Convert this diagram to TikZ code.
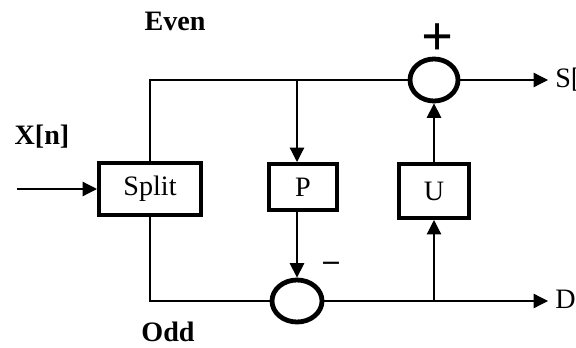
\documentclass[tikz,border=0pt]{standalone}
\usepackage{fontspec}
\setmainfont{Liberation Serif}
\usetikzlibrary{arrows.meta,shapes.geometric,positioning,calc}
\tikzset{
  block/.style={
    shape = rectangle,
    draw,
    line width=1mm,
    inner sep=0pt,
    font=\fontsize{20}{24}\selectfont
  },
  adder/.style={
    shape = ellipse,
    draw,
    line width=1.2mm,
    inner sep=0pt,
    minimum width=1.2cm,
    minimum height=1.05cm
  },
  wire/.style={
    line width=0.9pt
  },
  arr/.style={
    wire,
    -{Triangle[length=3.6mm,width=3.6mm]}
  },
  lbl/.style={
    font=\fontsize{20}{24}\selectfont\bfseries,
    inner sep=0pt
  },
  sig/.style={
    anchor=west,
    font=\fontsize{20}{24}\selectfont,
    inner sep=0pt
  }
}

\begin{document}
\begin{tikzpicture}[x=0.025cm,y=-0.025cm]
        \useasboundingbox (0,0) rectangle (576,347);

        % blocks
        \node[block, minimum width=2.55cm, minimum height=1.3cm] (split) at (150,189) {Split};
        \node[block, minimum width=1.7cm, minimum height=1.15cm] (pbox) at (303,187) {P};
        \node[block, minimum width=1.75cm, minimum height=1.35cm] (ubox) at (434,191) {U};
        \node[adder] (plus) at (434,80) {};
        \node[adder, minimum width=1.25cm] (minus) at (297,301) {};

        % free ends
        \coordinate (xin) at (17,189);
        \coordinate (sout) at (548,80);
        \coordinate (dout) at (548,301);
        \coordinate (ufork) at (ubox.south |- minus.east);

        % wires
        \draw[arr] (xin) -- (split.west);
        \draw[wire] (split.north) |- (plus.west);
        \draw[wire] (split.south) |- (minus.west);
        \draw[arr] (minus.north |- plus.west) -- (pbox.north -| minus.north);
        \draw[arr] (pbox.south -| minus.north) -- (minus.north);
        \draw[arr] (plus.east) -- (sout);
        \draw[arr] (minus.east) -- (dout);
        \draw[arr] (ufork) -- (ubox.south);
        \draw[arr] (ubox.north) -- (plus.south);

        % labels
        \node[lbl] (even) at (175,21) {Even};
        \node[lbl] (xn) at (42,137) {X[n]};
        \node[lbl] (odd) at (168,332) {Odd};
        \node[inner sep=0pt, font=\fontsize{40}{40}\selectfont\bfseries] (plussign) at (438,40) {+};
        \node[inner sep=0pt, font=\fontsize{22}{22}\selectfont\bfseries] (minussign) at (331,266) {–};
        \node[sig] (slbl) at (555,80) {S[n]};
        \node[sig] (dlbl) at (555,301) {D[n]};
\end{tikzpicture}
\end{document}
